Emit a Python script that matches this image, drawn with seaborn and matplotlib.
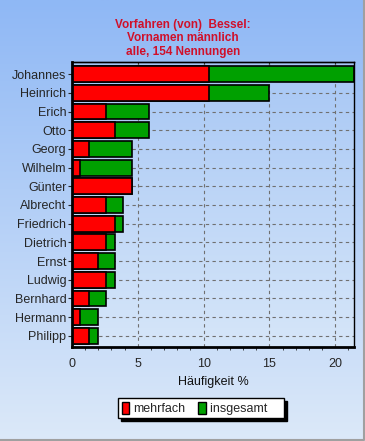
import numpy as np
import pandas as pd
import matplotlib
matplotlib.use('Agg')
import matplotlib.pyplot as plt
from matplotlib.colors import LinearSegmentedColormap
from matplotlib.patches import Patch
from matplotlib.ticker import MultipleLocator
import seaborn as sns

# Vornamen und Haeufigkeiten (% von 154 Nennungen)
names = ['Johannes', 'Heinrich', 'Erich', 'Otto', 'Georg', 'Wilhelm', 'Günter',
         'Albrecht', 'Friedrich', 'Dietrich', 'Ernst', 'Ludwig', 'Bernhard',
         'Hermann', 'Philipp']
mehrfach = [10.39, 10.39, 2.60, 3.25, 1.30, 0.65, 4.55,
            2.60, 3.25, 2.60, 1.95, 2.60, 1.30, 0.65, 1.30]
insgesamt = [21.43, 14.94, 5.84, 5.84, 4.55, 4.55, 4.55,
             3.90, 3.90, 3.25, 3.25, 3.25, 2.60, 1.95, 1.95]

df = pd.DataFrame({'name': names, 'mehrfach': mehrfach, 'insgesamt': insgesamt})

sns.set_style('white')
plt.rcParams['font.family'] = ['Liberation Sans', 'DejaVu Sans']

fig = plt.figure(figsize=(3.65, 4.41), dpi=100)

# Hintergrund mit Farbverlauf
grad = np.linspace(0, 1, 256).reshape(-1, 1)
bg = fig.add_axes([0, 0, 1, 1], zorder=-10)
cmap_fig = LinearSegmentedColormap.from_list('figbg', ['#8fb8f5', '#dce9f9'])
bg.imshow(grad, aspect='auto', cmap=cmap_fig, extent=[0, 1, 0, 1], origin='upper')
bg.set_xlim(0, 1)
bg.set_ylim(0, 1)
bg.axis('off')
bg.plot([0, 0.997, 0.997], [0.002, 0.002, 1], color='#a0a0a0', lw=1.5)

ax = fig.add_axes([0.197, 0.213, 0.773, 0.646])
xmax = 21.43
cmap_ax = LinearSegmentedColormap.from_list('axbg', ['#a7c7f5', '#d6e6f9'])
ax.imshow(grad, aspect='auto', cmap=cmap_ax, extent=[0, 1, 0, 1], origin='upper',
          transform=ax.transAxes, zorder=0)

sns.barplot(data=df, y='name', x='insgesamt', color='#00a000', orient='h',
            width=0.85, edgecolor='black', linewidth=1.2, saturation=1, ax=ax, zorder=3)
sns.barplot(data=df, y='name', x='mehrfach', color='#ff0000', orient='h',
            width=0.85, edgecolor='black', linewidth=1.2, saturation=1, ax=ax, zorder=4)

ax.set_xlim(0, xmax)
ax.set_ylim(14.6, -0.64)
ax.set_xticks([0, 5, 10, 15, 20])
ax.xaxis.set_minor_locator(MultipleLocator(1))
ax.grid(True, which='major', color='#707070', linestyle=(0, (3, 3)), linewidth=0.8, zorder=1)
ax.set_axisbelow(True)
ax.set_ylabel('')
ax.set_xlabel('Häufigkeit %', fontsize=9, color='#101010', labelpad=4)
ax.tick_params(axis='x', which='major', length=4, width=0.8, labelsize=9, pad=4, color='black')
ax.tick_params(axis='x', which='minor', length=2.5, width=0.6, bottom=True)
ax.tick_params(axis='y', length=3, width=0.8, labelsize=9, pad=1, left=True)
for s in ['top', 'right']:
    ax.spines[s].set_linewidth(1)
for s in ['left', 'bottom']:
    ax.spines[s].set_linewidth(2)
for s in ax.spines.values():
    s.set_color('black')
    s.set_zorder(6)

# Ticks oben nach innen
top = ax.secondary_xaxis('top')
top.set_xticks([0, 5, 10, 15, 20])
top.tick_params(direction='in', length=4, width=0.8, labeltop=False)
top.spines['top'].set_linewidth(1)

fig.text(0.502, 0.958, 'Vorfahren (von)  Bessel:\nVornamen männlich\nalle, 154 Nennungen',
         ha='center', va='top', color='#d0102a', fontsize=8.5, fontweight='bold',
         linespacing=1.2)

handles = [Patch(facecolor='#ff0000', edgecolor='black', label='mehrfach'),
           Patch(facecolor='#00a000', edgecolor='black', label='insgesamt    ')]
leg = fig.legend(handles=handles, loc='center', bbox_to_anchor=(0.552, 0.074), ncol=2,
                 fontsize=9, frameon=True, fancybox=False, shadow={'color': 'black', 'alpha': 1},
                 edgecolor='black', framealpha=1, handlelength=0.6, handleheight=1.2,
                 handletextpad=0.35, columnspacing=1.0, borderpad=0.25, borderaxespad=0)
leg.get_frame().set_linewidth(1)

fig.savefig('out.png', dpi=100)
